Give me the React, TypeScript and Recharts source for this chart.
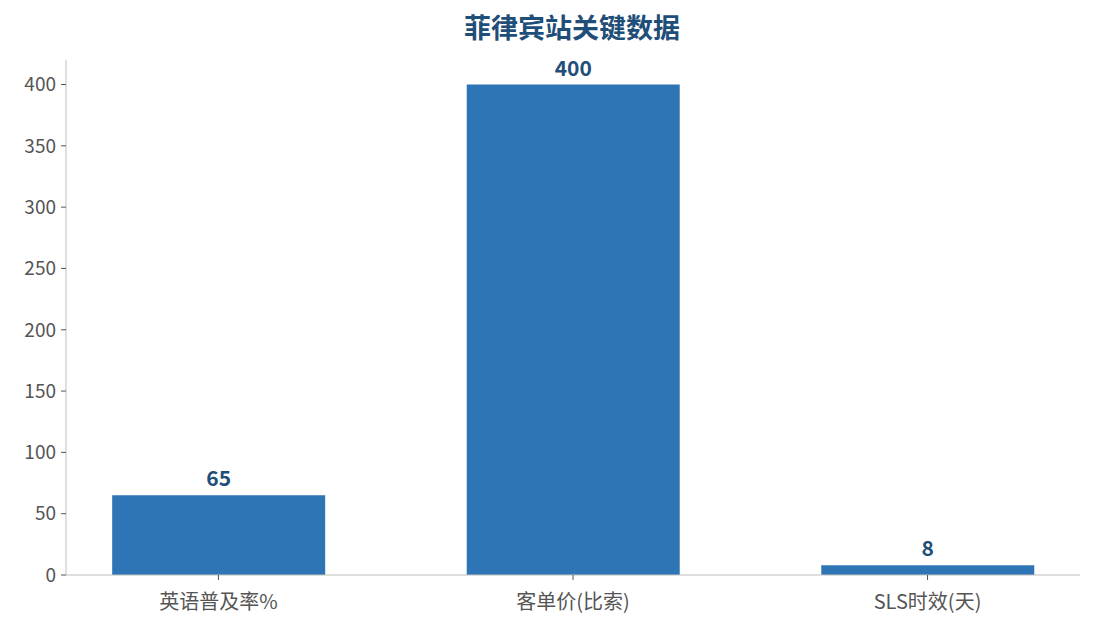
import { BarChart, Bar, XAxis, YAxis, LabelList } from 'recharts';

const categories = ['英语普及率%', '客单价(比索)', 'SLS时效(天)'];
const values = [65, 400, 8];
const yTicks = [0, 50, 100, 150, 200, 250, 300, 350, 400];

const data = categories.map((name, i) => ({ idx: i, name, value: values[i] }));

const FONT = '"Noto Sans CJK SC", "Open Sans", sans-serif';

export default function App() {
  return (
    <div style={{ position: 'absolute', left: 0, top: 0, width: 1094, height: 629, background: '#fff', fontFamily: FONT }}>
      <div
        style={{
          position: 'absolute',
          top: 8,
          left: 0,
          width: 1144,
          textAlign: 'center',
          fontSize: 27,
          fontWeight: 700,
          color: '#1f4e79',
          lineHeight: '38px',
        }}
      >
        菲律宾站关键数据
      </div>
      <BarChart
        width={1094}
        height={629}
        data={data}
        margin={{ top: 60, right: 14, bottom: 14, left: 8 }}
      >
        <XAxis
          dataKey="idx"
          type="number"
          domain={[-0.43, 2.43]}
          ticks={[0, 1, 2]}
          tickFormatter={(v: number) => categories[v]}
          height={40}
          stroke="#bfbfbf"
          tickLine={{ stroke: '#555' }}
          tickSize={5}
          tickMargin={15}
          tick={{ fill: '#555', fontSize: 20, fontFamily: FONT }}
          allowDataOverflow
        />
        <YAxis
          domain={[0, 420]}
          ticks={yTicks}
          width={58}
          stroke="#bfbfbf"
          tickLine={{ stroke: '#555' }}
          tickSize={5}
          tickMargin={5}
          tick={{ fill: '#555', fontSize: 19, fontFamily: FONT }}
          allowDataOverflow
        />
        <Bar dataKey="value" fill="#2e75b6" barSize={213} isAnimationActive={false}>
          <LabelList
            dataKey="value"
            position="top"
            offset={9}
            fill="#1f4e79"
            fontSize={21}
            fontWeight={700}
            fontFamily={FONT}
          />
        </Bar>
      </BarChart>
    </div>
  );
}
